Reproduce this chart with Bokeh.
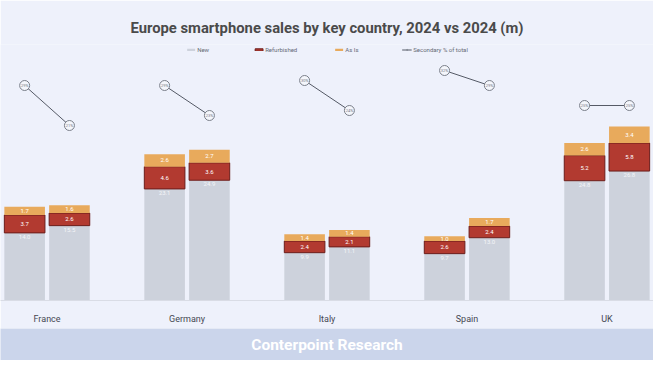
from bokeh.plotting import figure
from bokeh.models import FactorRange, Range1d, ColumnDataSource, Legend, LegendItem
from bokeh.transform import dodge
from bokeh.layouts import column
from bokeh.embed import file_html
from bokeh.resources import INLINE
from bokeh.core.properties import value

countries = ["France", "Germany", "Italy", "Spain", "UK"]
new_a = [14.0, 23.1, 9.9, 9.7, 24.8]
refurb_a = [3.7, 4.6, 2.4, 2.6, 5.2]
asis_a = [1.7, 2.6, 1.4, 1.0, 2.6]
new_b = [15.5, 24.9, 11.1, 13.0, 26.8]
refurb_b = [2.6, 3.6, 2.1, 2.4, 5.8]
asis_b = [1.6, 2.7, 1.4, 1.7, 3.4]
pct_a = [29, 29, 30, 32, 25]
pct_b = [21, 23, 24, 29, 25]

C_NEW = "#cdd2dc"
C_REF = "#b23a30"
C_ASIS = "#e8aa5c"
BG = "#eef1fb"
OFF = 0.16
W = 0.29

def build(new, ref, asis, pct):
    d = {"country": countries}
    d["new"] = new
    d["ref_top"] = [n + r for n, r in zip(new, ref)]
    d["asis_top"] = [n + r + a for n, r, a in zip(new, ref, asis)]
    d["ref_mid"] = [n + r / 2 for n, r in zip(new, ref)]
    d["asis_mid"] = [n + r + a / 2 for n, r, a in zip(new, ref, asis)]
    d["new_lbl"] = ["%.1f" % v for v in new]
    d["ref_lbl"] = ["%.1f" % v for v in ref]
    d["asis_lbl"] = ["%.1f" % v for v in asis]
    d["pct"] = pct
    d["pct_lbl"] = ["%d%%" % v for v in pct]
    return ColumnDataSource(d)

src_a = build(new_a, refurb_a, asis_a, pct_a)
src_b = build(new_b, refurb_b, asis_b, pct_b)
seg_src = ColumnDataSource(dict(country=countries, pa=pct_a, pb=pct_b))

p = figure(x_range=FactorRange(factors=countries, range_padding=-0.067),
           y_range=Range1d(0, 53), width=653, height=328,
           output_backend="svg", toolbar_location=None,
           background_fill_color=BG, border_fill_color=BG,
           min_border_left=0, min_border_right=0, min_border_bottom=28,
           min_border_top=44)
p.extra_y_ranges = {"pct": Range1d(-14, 37.2)}

p.title.text = "Europe smartphone sales by key country, 2024 vs 2024 (m)"
p.title.align = "center"
p.title.text_font = "Roboto"
p.title.text_font_style = "bold"
p.title.text_font_size = "14.8px"
p.title.text_color = "#4a4a4a"
p.title.standoff = 15

renderers = {}
for off, src in ((-OFF, src_a), (OFF, src_b)):
    xs = dodge("country", off, range=p.x_range)
    r_new = p.vbar(x=xs, bottom=0, top="new", width=W, source=src,
                   fill_color=C_NEW, line_color=None)
    r_ref = p.vbar(x=xs, bottom="new", top="ref_top", width=W, source=src,
                   fill_color=C_REF, line_color="#6b1d1a", line_width=1)
    r_asis = p.vbar(x=xs, bottom="ref_top", top="asis_top", width=W, source=src,
                    fill_color=C_ASIS, line_color=None)
    renderers.setdefault("new", r_new)
    renderers.setdefault("ref", r_ref)
    renderers.setdefault("asis", r_asis)
    p.text(x=xs, y="new", text="new_lbl", source=src, text_font=value("Roboto"),
           text_font_size="6px", text_color="#f4f5f8", text_align="center",
           text_baseline="top", y_offset=2)
    p.text(x=xs, y="ref_mid", text="ref_lbl", source=src, text_font=value("Roboto"),
           text_font_size="6px", text_color="#ffffff", text_align="center",
           text_baseline="middle")
    p.text(x=xs, y="asis_mid", text="asis_lbl", source=src, text_font=value("Roboto"),
           text_font_size="6px", text_color="#ffffff", text_align="center",
           text_baseline="middle")

r_seg = p.segment(x0=dodge("country", -OFF, range=p.x_range), y0="pa",
                  x1=dodge("country", OFF, range=p.x_range), y1="pb",
                  source=seg_src, y_range_name="pct", line_color="#555a66", line_width=1)
for off, src in ((-OFF, src_a), (OFF, src_b)):
    xs = dodge("country", off, range=p.x_range)
    r_pt = p.scatter(x=xs, y="pct", source=src, y_range_name="pct", size=10,
                     fill_color="#f4f6fb", line_color="#7a7f8a", line_width=1)
    p.text(x=xs, y="pct", text="pct_lbl", source=src, y_range_name="pct",
           text_font=value("Roboto"), text_font_size="4px", text_color="#777c88",
           text_align="center", text_baseline="middle")

legend = Legend(items=[
    LegendItem(label="New", renderers=[renderers["new"]]),
    LegendItem(label="Refurbished", renderers=[renderers["ref"]]),
    LegendItem(label="As Is", renderers=[renderers["asis"]]),
    LegendItem(label="Secondary % of total", renderers=[r_seg, r_pt]),
], orientation="horizontal", location="top_center",
    label_text_font_size="6px", label_text_color="#666a75", label_text_font="Roboto",
    glyph_height=3, glyph_width=10, spacing=36, label_standoff=2,
    background_fill_alpha=0, border_line_alpha=0, margin=0, padding=2)
p.add_layout(legend)

p.yaxis.visible = False
p.xgrid.grid_line_color = None
p.ygrid.grid_line_color = None
p.outline_line_color = None
p.xaxis.axis_line_color = "#d9dce5"
p.xaxis.major_tick_line_color = None
p.xaxis.minor_tick_line_color = None
p.xaxis.major_label_text_font = "Roboto"
p.xaxis.major_label_text_font_size = "9px"
p.xaxis.major_label_text_color = "#454852"
p.xaxis.major_label_standoff = 7

f = figure(width=653, height=32, x_range=Range1d(0, 1), y_range=Range1d(0, 1),
           output_backend="svg", toolbar_location=None,
           background_fill_color="#cbd5eb", border_fill_color="#cbd5eb",
           min_border=0)
f.axis.visible = False
f.grid.grid_line_color = None
f.outline_line_color = None
f.text(x=[0.5], y=[0.5], text=["Conterpoint Research"], text_align="center",
       text_baseline="middle", text_font=value("Roboto"), text_font_style="bold",
       text_font_size="15.5px", text_color="#ffffff")

layout = column(p, f, spacing=0)
open("out.html", "w").write(file_html(layout, INLINE))
